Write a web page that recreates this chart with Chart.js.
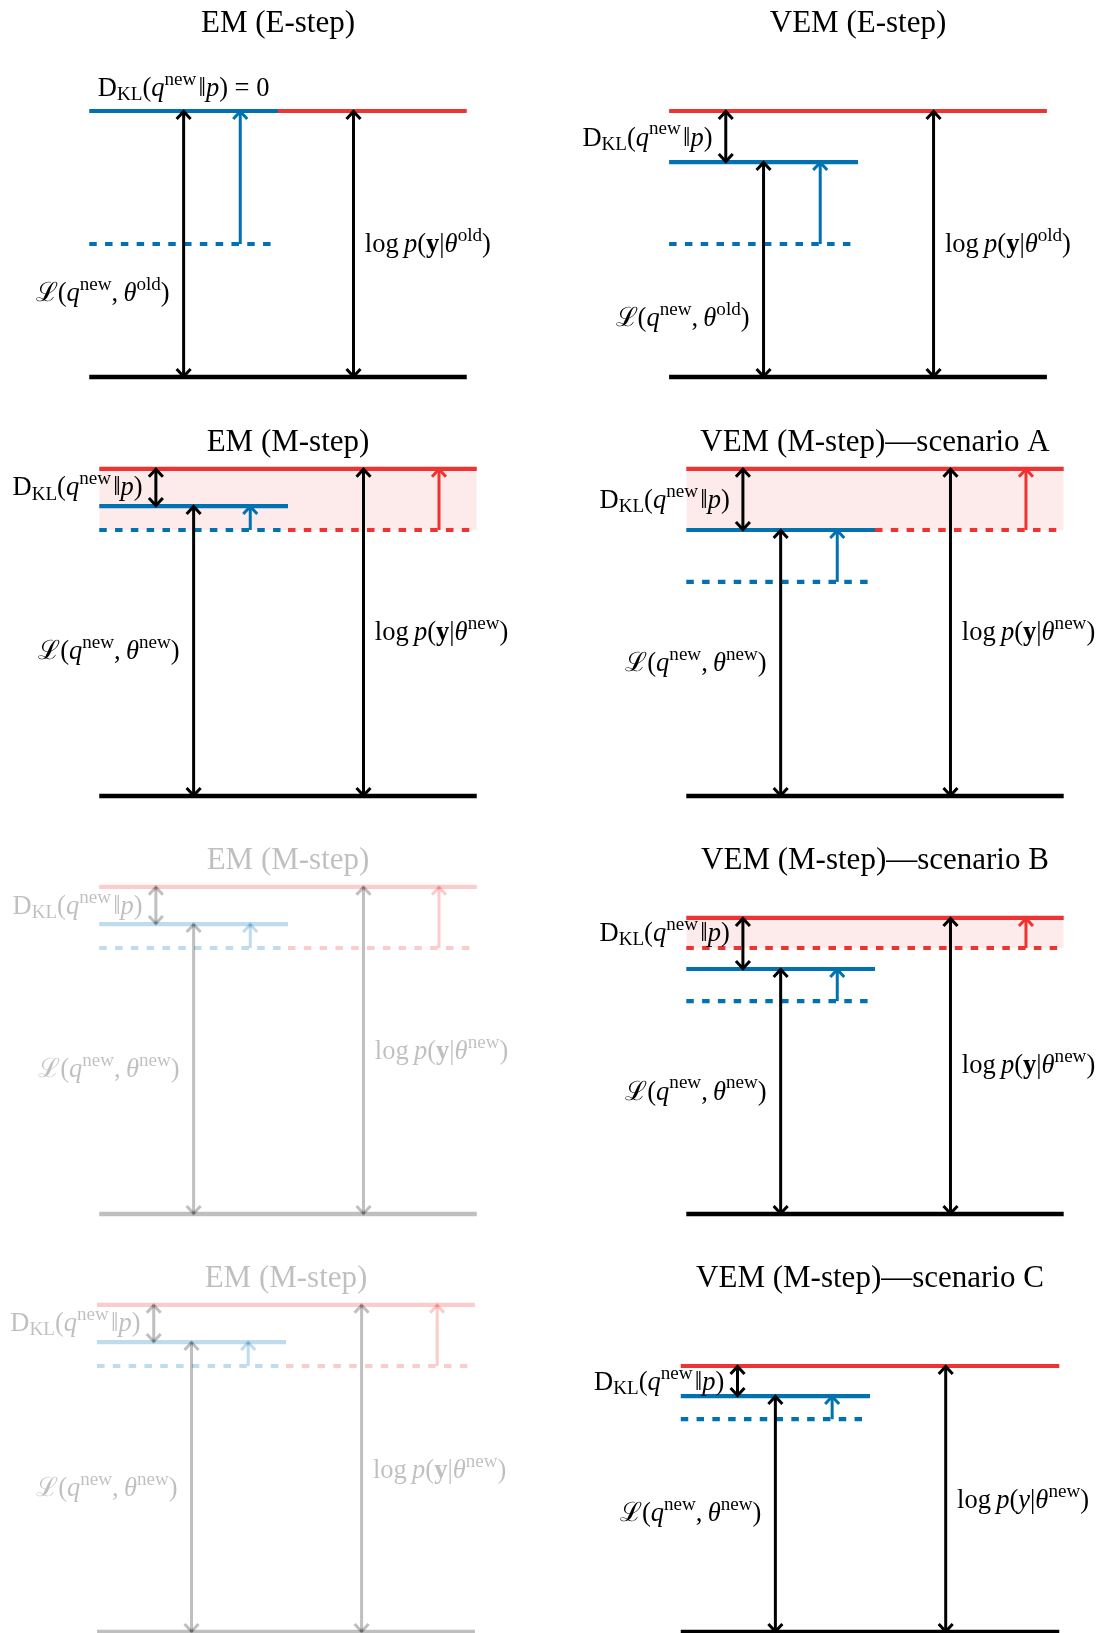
<!DOCTYPE html>
<html>
<head>
<meta charset="utf-8">
<script src="https://cdn.jsdelivr.net/npm/chart.js@4.4.0/dist/chart.umd.min.js"></script>
<style>
  html, body { margin: 0; padding: 0; background: #fff; overflow: hidden; }
  #wrap { position: relative; width: 1106px; height: 1633px; overflow: hidden; }
  #wrap canvas { position: absolute; }
</style>
</head>
<body>
<div id="wrap"></div>
<script>
// panels go row by row: EM on the left, VEM on the right
const titles = [
  'EM (E-step)', 'VEM (E-step)',
  'EM (M-step)', 'VEM (M-step)\u2014scenario A',
  'EM (M-step)', 'VEM (M-step)\u2014scenario B',
  'EM (M-step)', 'VEM (M-step)\u2014scenario C'
]
const logpNew = [1.0, 1.0, 1.23, 1.23, 1.23, 1.113, 1.23, 1.0]     // red solid, log p(y|theta)
const logpOld = [1.0, 1.0, 1.0, 1.0, 1.0, 1.0, 1.0, 1.0]          // red dashed, before the M-step
const elboNew = [1.0, 0.808, 1.09, 1.0, 1.09, 0.921, 1.09, 0.887] // blue solid, L(q new, theta)
const elboOld = [0.5, 0.5, 1.0, 0.805, 1.0, 0.8, 1.0, 0.8]        // blue dashed
const thetaMoved = [false, false, true, true, true, true, true, false]
const faded = [false, false, false, false, true, false, true, false]
const thetaTag = ['old', 'old', 'new', 'new', 'new', 'new', 'new', 'new']
const boldY = [true, true, true, true, true, true, true, false]

// x of the arrows (line runs 0..1)
const X_KL = 0.15, X_ELBO = 0.25, X_Q = 0.4, X_LOGP = 0.7, X_THETA = 0.9

// layout: page px of the 0..1 line ends and of y = 0, label heights
const frames = [
  [89.3, 466.8, 377], [669, 1046.8, 377],
  [99.3, 476.8, 796], [686.4, 1063.8, 796],
  [99.3, 476.8, 1214], [686.4, 1063.8, 1214],
  [97.1, 475, 1632], [681.2, 1059.7, 1632]
]
const labelY = [
  { kl: 1.087, elbo: 0.316, logp: 0.5 },
  { kl: 0.9, elbo: 0.22, logp: 0.5 },
  { kl: 1.16, elbo: 0.545, logp: 0.615 },
  { kl: 1.113, elbo: 0.5, logp: 0.617 },
  { kl: 1.158, elbo: 0.545, logp: 0.613 },
  { kl: 1.056, elbo: 0.46, logp: 0.56 },
  { kl: 1.162, elbo: 0.541, logp: 0.609 },
  { kl: 0.94, elbo: 0.447, logp: 0.496 }
]

const SERIF = '"Liberation Serif", "DejaVu Serif", serif'
const BLACK = [0, 0, 0], BLUE = [0, 114, 178], RED = [238, 51, 51]
const W = 620, H = 410, PAD_B = 10, UNIT = 266
const TITLE_SIZE = 31, TITLE_GAP = 353, LABEL_SIZE = 26.5
const DASH = [7.5, 8.3]

function tint(c, a) {
  return 'rgba(' + c[0] + ',' + c[1] + ',' + c[2] + ',' + a + ')'
}

function fontOf(f, size) {
  const st = f === 'i' ? 'italic ' : f === 'b' ? 'bold ' : ''
  return st + size + 'px ' + SERIF
}

function drawRich(ctx, segs, x, y, align, size, color) {
  const parts = segs.map(s => {
    const fs = s[2] ? size * 0.72 : size
    ctx.font = fontOf(s[1], fs)
    return { t: s[0], f: s[1], v: s[2], fs, w: ctx.measureText(s[0]).width }
  })
  const total = parts.reduce((acc, p) => acc + p.w, 0)
  let cx = align === 'right' ? x - total : align === 'center' ? x - total / 2 : x
  const base = y + size * 0.3
  ctx.fillStyle = color
  ctx.textAlign = 'left'
  ctx.textBaseline = 'alphabetic'
  parts.forEach(p => {
    ctx.font = fontOf(p.f, p.fs)
    const dy = p.v === 'sup' ? -size * 0.42 : p.v === 'sub' ? size * 0.16 : 0
    ctx.fillText(p.t, cx, base + dy)
    cx += p.w
  })
}

function klSegs() {
  return [['D', 'r'], ['KL', 'r', 'sub'], ['(', 'r'], ['q', 'i'], ['new', 'r', 'sup'],
    ['\u200a\u2016', 'r'], ['p', 'i'], [')', 'r']]
}
function elboSegs(tag) {
  return [['\u2112', 'r'], ['(', 'r'], ['q', 'i'], ['new', 'r', 'sup'], [',\u2009', 'r'],
    ['\u03b8', 'i'], [tag, 'r', 'sup'], [')', 'r']]
}
function logpSegs(tag, bold) {
  return [['log\u2009', 'r'], ['p', 'i'], ['(', 'r'], ['y', bold ? 'b' : 'i'], ['|', 'r'],
    ['\u03b8', 'i'], [tag, 'r', 'sup'], [')', 'r']]
}

// arrow heads and math labels
const diagram = {
  id: 'diagram',
  afterDatasetsDraw(chart, args, opts) {
    const ctx = chart.ctx
    ctx.save()
    chart.data.datasets.forEach((ds, i) => {
      if (!ds.heads) return
      const pts = chart.getDatasetMeta(i).data
      const p0 = pts[0], p1 = pts[1]
      ctx.strokeStyle = ds.borderColor
      ctx.lineWidth = ds.borderWidth
      ctx.lineJoin = 'miter'
      const head = (tip, from) => {
        const dir = tip.y < from.y ? 1 : -1
        ctx.beginPath()
        ctx.moveTo(tip.x - 7, tip.y + dir * 8)
        ctx.lineTo(tip.x, tip.y + dir * 0.5)
        ctx.lineTo(tip.x + 7, tip.y + dir * 8)
        ctx.stroke()
      }
      head(p1, p0)
      if (ds.heads === 'both') head(p0, p1)
    })
    const xs = chart.scales.x, ys = chart.scales.y
    opts.labels.forEach(l => {
      drawRich(ctx, l.segs, xs.getPixelForValue(l.x), ys.getPixelForValue(l.y),
        l.align, LABEL_SIZE, opts.color)
    })
    ctx.restore()
  }
}

const wrap = document.getElementById('wrap')

titles.forEach((title, i) => {
  const [fl, fr, fb] = frames[i]
  const span = fr - fl
  const left = (fl + fr) / 2 - W / 2
  const top = fb - (H - PAD_B)
  const canvas = document.createElement('canvas')
  canvas.width = W
  canvas.height = H
  canvas.style.left = left + 'px'
  canvas.style.top = top + 'px'
  wrap.appendChild(canvas)

  const a = faded[i] ? 0.25 : 1
  const black = tint(BLACK, a), blue = tint(BLUE, a), red = tint(RED, a)
  const datasets = []
  const hline = (y, x0, x1, color, dashed, width) => datasets.push({
    data: [{ x: x0, y }, { x: x1, y }],
    borderColor: color, borderWidth: width || 4.2,
    borderDash: dashed ? DASH : [], order: 1
  })
  const arrow = (x, y0, y1, color, heads) => datasets.push({
    data: [{ x, y: y0 }, { x, y: y1 }],
    borderColor: color, borderWidth: 3, heads, order: 0
  })

  if (thetaMoved[i] && !faded[i]) {
    datasets.push({
      data: [{ x: 0, y: logpNew[i] }, { x: 1, y: logpNew[i] }],
      borderWidth: 0, borderColor: 'rgba(0,0,0,0)',
      backgroundColor: tint(RED, 0.1), fill: { value: logpOld[i] }, order: 2
    })
  }

  hline(logpNew[i], elboNew[i] === logpNew[i] ? 0.5 : 0, 1, red)
  if (thetaMoved[i]) {
    const shared = elboNew[i] === logpOld[i] || elboOld[i] === logpOld[i]
    hline(logpOld[i], shared ? 0.5 : 0, 1, red, true)
  }
  hline(elboNew[i], 0, 0.5, blue)
  hline(elboOld[i], 0, 0.5, blue, true)
  hline(0, 0, 1, black, false, 4.6)

  if (logpNew[i] > elboNew[i]) arrow(X_KL, elboNew[i], logpNew[i], black, 'both')
  arrow(X_ELBO, 0, elboNew[i], black, 'both')
  arrow(X_Q, elboOld[i], elboNew[i], blue, 'end')
  arrow(X_LOGP, 0, logpNew[i], black, 'both')
  if (thetaMoved[i]) arrow(X_THETA, logpOld[i], logpNew[i], red, 'end')

  const ly = labelY[i]
  const labels = [
    { segs: elboSegs(thetaTag[i]), x: 0.213, y: ly.elbo, align: 'right' },
    { segs: logpSegs(thetaTag[i], boldY[i]), x: 0.73, y: ly.logp, align: 'left' }
  ]
  if (logpNew[i] > elboNew[i]) {
    labels.push({ segs: klSegs(), x: 0.115, y: ly.kl, align: 'right' })
  } else {
    labels.push({ segs: klSegs().concat([[' = 0', 'r']]), x: X_ELBO, y: ly.kl, align: 'center' })
  }

  const lineH = TITLE_SIZE * 1.2
  const titleCentre = (H - PAD_B) - TITLE_GAP
  const areaTop = titleCentre + lineH / 2
  const pad = W / 2 - span / 2

  new Chart(canvas, {
    type: 'line',
    data: { datasets },
    options: {
      responsive: false,
      animation: false,
      events: [],
      devicePixelRatio: 1,
      layout: { autoPadding: false, padding: { left: 0, right: 0, top: 0, bottom: PAD_B } },
      datasets: { line: { pointRadius: 0, tension: 0, clip: false, fill: false, borderCapStyle: 'butt' } },
      scales: {
        x: { type: 'linear', display: false, min: -pad / span, max: (W - pad) / span },
        y: { type: 'linear', display: false, min: 0, max: ((H - PAD_B) - areaTop) / UNIT }
      },
      plugins: {
        legend: { display: false },
        tooltip: { enabled: false },
        title: {
          display: true,
          text: title,
          color: tint(BLACK, a),
          font: { family: SERIF, size: TITLE_SIZE, weight: 'normal' },
          padding: { top: titleCentre - lineH / 2, bottom: 0 }
        },
        diagram: { labels, color: tint(BLACK, a) }
      }
    },
    plugins: [diagram]
  })
})
</script>
</body>
</html>
